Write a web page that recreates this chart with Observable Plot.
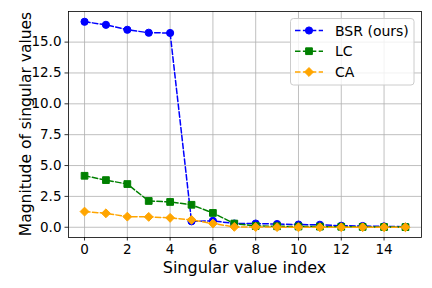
<!DOCTYPE html>
<html>
<head>
<meta charset="utf-8">
<script src="https://cdn.jsdelivr.net/npm/d3@7"></script>
<script src="https://cdn.jsdelivr.net/npm/@observablehq/plot@0.6"></script>
<style>
  html, body { margin: 0; padding: 0; background: white; }
  #chart { width: 432px; height: 288px; }
</style>
</head>
<body>
<div id="chart"></div>
<script>
const indices = [0, 1, 2, 3, 4, 5, 6, 7, 8, 9, 10, 11, 12, 13, 14, 15];
const bsr = [16.65, 16.4, 16.0, 15.76, 15.74, 0.48, 0.52, 0.3, 0.3, 0.26, 0.22, 0.2, 0.12, 0.1, 0.07, 0.04];
const lc  = [4.17, 3.82, 3.5, 2.13, 2.05, 1.82, 1.16, 0.3, 0.1, 0.08, 0.06, 0.05, 0.04, 0.03, 0.02, 0.01];
const ca  = [1.27, 1.13, 0.86, 0.84, 0.76, 0.6, 0.3, 0.03, 0.02, 0.01, 0.0, 0.0, 0.0, 0.0, 0.0, 0.0];
const xTicks = [0, 2, 4, 6, 8, 10, 12, 14];
const yTicks = [0, 2.5, 5, 7.5, 10, 12.5, 15];
const xLabel = "Singular value index";
const yLabel = "Magnitude of singular values";

const seriesDefs = [
  {name: "BSR (ours)", values: bsr, color: "blue", symbol: "circle", r: 3.6},
  {name: "LC", values: lc, color: "green", symbol: "square", r: 3.8},
  {name: "CA", values: ca, color: "orange", symbol: "diamond2", r: 4.0}
];
const data = seriesDefs.flatMap(s => indices.map((i, k) => ({series: s.name, x: i, y: s.values[k]})));

const dash = "5.5,2.4";
const symbols = {circle: d3.symbolCircle, square: d3.symbolSquare, diamond2: d3.symbolDiamond2};

function legendMark(index, scales, values, dims) {
  const g = d3.create("svg:g").attr("text-anchor", "start");
  const x0 = 290.5, y0 = 18.5, w = 123.5, h = 66.5;
  g.append("rect").attr("x", x0).attr("y", y0).attr("width", w).attr("height", h)
    .attr("rx", 3).attr("fill", "white").attr("fill-opacity", 0.8)
    .attr("stroke", "#cccccc").attr("stroke-width", 1);
  const rows = [30.5, 51.2, 72];
  seriesDefs.forEach((s, i) => {
    const y = rows[i];
    g.append("line").attr("x1", 295).attr("x2", 323).attr("y1", y).attr("y2", y)
      .attr("stroke", s.color).attr("stroke-width", 1.5).attr("stroke-dasharray", dash);
    g.append("path").attr("transform", `translate(309,${y})`)
      .attr("d", d3.symbol(symbols[s.symbol], s.r * s.r * Math.PI)())
      .attr("fill", s.color).attr("stroke", s.color).attr("stroke-width", 1);
    g.append("text").attr("x", 335).attr("y", y + 5.2).attr("font-size", 14)
      .attr("fill", "black").text(s.name);
  });
  return g.node();
}

function axisTitles(index, scales, values, dims) {
  const g = d3.create("svg:g").attr("fill", "black");
  const cx = (dims.marginLeft + dims.width - dims.marginRight) / 2;
  const cy = (dims.marginTop + dims.height - dims.marginBottom) / 2;
  g.append("text").attr("text-anchor", "middle").attr("font-size", 16)
    .attr("x", cx).attr("y", 273).text(xLabel);
  g.append("text").attr("text-anchor", "middle").attr("font-size", 15.5)
    .attr("transform", `translate(25.5,${cy}) rotate(-90)`)
    .attr("dy", "0.35em").text(yLabel);
  return g.node();
}

const chart = Plot.plot({
  width: 432,
  height: 288,
  marginLeft: 68,
  marginRight: 11,
  marginTop: 11,
  marginBottom: 51,
  style: {fontFamily: "DejaVu Sans", background: "white", color: "black"},
  x: {domain: [-0.75, 15.75]},
  y: {domain: [-0.83, 17.48]},
  marks: [
    Plot.gridX(xTicks, {stroke: "#b0b0b0", strokeOpacity: 1, strokeWidth: 0.8}),
    Plot.gridY(yTicks, {stroke: "#b0b0b0", strokeOpacity: 1, strokeWidth: 0.8}),
    Plot.axisX(xTicks, {tickSize: 3.5, tickPadding: 3.5, fontSize: 13.5, label: null, strokeWidth: 0.8}),
    Plot.axisY(yTicks, {tickSize: 3.5, tickPadding: 3.5, fontSize: 13.5, label: null, strokeWidth: 0.8, tickFormat: d3.format(".1f")}),
    ...seriesDefs.map(s => Plot.line(data.filter(d => d.series === s.name), {
      x: "x", y: "y", stroke: s.color, strokeWidth: 1.5, strokeDasharray: dash
    })),
    ...seriesDefs.map(s => Plot.dot(data.filter(d => d.series === s.name), {
      x: "x", y: "y", fill: s.color, stroke: s.color, strokeWidth: 1, symbol: s.symbol, r: s.r
    })),
    Plot.frame({stroke: "black", strokeWidth: 0.8}),
    axisTitles,
    legendMark
  ]
});
document.getElementById("chart").appendChild(chart);
</script>
</body>
</html>
